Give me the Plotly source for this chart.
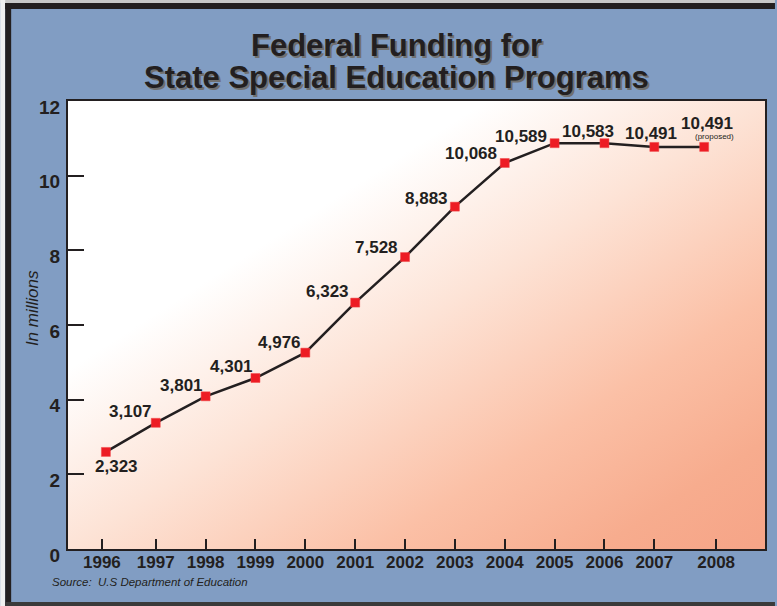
import plotly.graph_objects as go
import urllib.parse

# ---- data ----
years = [1996, 1997, 1998, 1999, 2000, 2001, 2002, 2003, 2004, 2005, 2006, 2007, 2008]
plotted_values = [2.60, 3.38, 4.09, 4.58, 5.26, 6.60, 7.82, 9.17, 10.34, 10.87, 10.87, 10.77, 10.77]
value_labels = ["2,323", "3,107", "3,801", "4,301", "4,976", "6,323", "7,528", "8,883",
                "10,068", "10,589", "10,583", "10,491", "10,491"]
x_tick_labels = ["1996", "1997", "1998", "1999", "2000", "2001", "2002", "2003",
                 "2004", "2005", "2006", "2007", "2008"]
x_tick_positions = [1995.92, 1997, 1998, 1999, 2000, 2001, 2002, 2003, 2004, 2005, 2006, 2007, 2008.24]
y_tick_values = [0, 2, 4, 6, 8, 10, 12]

# ---- styles ----
W, H = 777, 606
L, R, T, B = 68, 767, 101, 549
PW, PH = R - L, B - T
DARK = "#231f20"
BLUE = "#819dc3"
FONT = "Liberation Sans, Arial, sans-serif"
label_offsets = [(11, -15), (-25, 11), (-24, 11), (-24, 12), (-26, 10), (-28, 11), (-29, 10),
                 (-28, 8), (-34, 9), (-34, 7), (-16, 12), (-3, 13), (3, 23)]


def px(x):
    return (x - L) / PW


def py(y):
    return (B - y) / PH


svg = ('<svg xmlns="http://www.w3.org/2000/svg" width="699" height="448" viewBox="0 0 699 448" '
       'preserveAspectRatio="none"><defs><linearGradient id="g" x1="0" y1="0" x2="1" y2="1">'
       '<stop offset="0" stop-color="#ffffff"/><stop offset="0.3" stop-color="#ffffff"/>'
       '<stop offset="0.5" stop-color="#fde3d6"/><stop offset="0.72" stop-color="#fbc0a6"/>'
       '<stop offset="0.88" stop-color="#f7ac8e"/><stop offset="1" stop-color="#f6a487"/>'
       '</linearGradient></defs><rect width="699" height="448" fill="url(#g)"/></svg>')
svg_uri = "data:image/svg+xml;charset=utf-8," + urllib.parse.quote(svg)

fig = go.Figure()
fig.add_trace(go.Scatter(
    x=years, y=plotted_values, mode="lines+markers",
    line=dict(color=DARK, width=2.5),
    marker=dict(symbol="square", size=9, color="#ed1c24", line=dict(color="#f04848", width=0.5)),
    hoverinfo="skip", showlegend=False,
))

annotations = []
for yr, v, lab, (dx, dy) in zip(years, plotted_values, value_labels, label_offsets):
    annotations.append(dict(x=yr, y=v, xref="x", yref="y", text=lab, showarrow=False,
                            xshift=dx, yshift=dy,
                            font=dict(family=FONT, size=17, color=DARK, weight="bold")))
annotations.append(dict(x=years[-1], y=plotted_values[-1], xref="x", yref="y", text="(proposed)",
                        showarrow=False, xshift=10, yshift=10,
                        font=dict(family=FONT, size=8, color=DARK)))

# title with drop shadow
for line, ycen in [("Federal Funding for", 46), ("State Special Education Programs", 78)]:
    annotations.append(dict(x=px(397), y=py(ycen), xref="paper", yref="paper",
                            text=line, showarrow=False, xanchor="center", yanchor="middle",
                            font=dict(family=FONT, size=31, color=DARK, weight="bold",
                                      shadow="2px 2px 0px #707070")))

annotations.append(dict(x=px(32), y=py(308), xref="paper", yref="paper", text="In millions",
                        textangle=-90, showarrow=False, xanchor="center", yanchor="middle",
                        font=dict(family=FONT, size=17, color=DARK, style="italic")))
annotations.append(dict(x=px(50), y=py(582), xref="paper", yref="paper",
                        text="Source:  U.S Department of Education",
                        showarrow=False, xanchor="left", yanchor="middle",
                        font=dict(family=FONT, size=11.5, color=DARK, style="italic")))

shapes = [
    dict(type="rect", xref="paper", yref="paper", x0=px(0), x1=px(W), y0=py(0), y1=py(3),
         fillcolor="#c8c8c8", line=dict(width=0), layer="above"),
    dict(type="rect", xref="paper", yref="paper", x0=px(0), x1=px(5), y0=py(0), y1=py(H),
         fillcolor="#f0f0f0", line=dict(width=0), layer="above"),
    dict(type="rect", xref="paper", yref="paper", x0=px(5), x1=px(W), y0=py(3), y1=py(9),
         fillcolor=DARK, line=dict(width=0), layer="above"),
    dict(type="rect", xref="paper", yref="paper", x0=px(5), x1=px(11), y0=py(3), y1=py(H),
         fillcolor=DARK, line=dict(width=0), layer="above"),
    dict(type="rect", xref="paper", yref="paper", x0=px(5), x1=px(W), y0=py(602), y1=py(H),
         fillcolor="#3a3a3a", line=dict(width=0), layer="above"),
]

fig.update_layout(
    width=W, height=H,
    margin=dict(l=L, r=W - R, t=T, b=H - B, pad=0),
    paper_bgcolor=BLUE, plot_bgcolor="rgba(0,0,0,0)",
    images=[dict(source=svg_uri, xref="paper", yref="paper", x=0, y=1, sizex=1, sizey=1,
                 xanchor="left", yanchor="top", sizing="stretch", layer="below")],
    annotations=annotations, shapes=shapes,
    showlegend=False,
)
fig.update_xaxes(range=[1995.24, 2009.22], tickvals=x_tick_positions, ticktext=x_tick_labels,
                 ticks="inside", ticklen=10, tickwidth=1.5, tickcolor=DARK,
                 showline=True, mirror=True, linecolor=DARK, linewidth=2,
                 showgrid=False, zeroline=False, ticklabelstandoff=-3,
                 tickfont=dict(family=FONT, size=17, color=DARK, weight="bold"))
fig.update_yaxes(range=[0, 12], tickvals=y_tick_values, ticktext=[str(v) for v in y_tick_values],
                 ticks="inside", ticklen=16, tickwidth=1.5, tickcolor=DARK,
                 showline=True, mirror=True, linecolor=DARK, linewidth=2,
                 showgrid=False, zeroline=False, ticklabelstandoff=2, ticklabelshift=6,
                 tickfont=dict(family=FONT, size=19, color=DARK, weight="bold"))

fig.write_html("out.html", config={"displayModeBar": False},
               post_script="document.body.style.margin='0';")
